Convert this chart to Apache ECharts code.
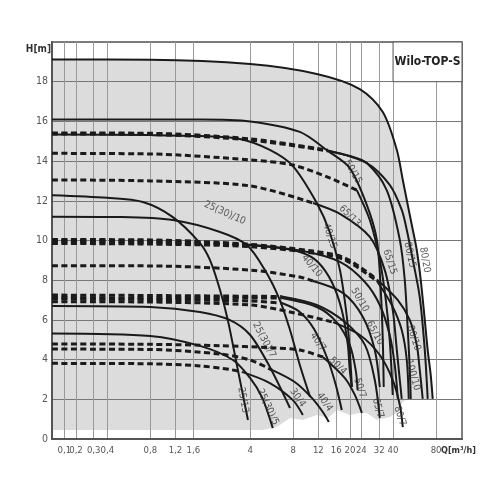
<!DOCTYPE html>
<html><head><meta charset="utf-8">
<script src="https://cdn.jsdelivr.net/npm/echarts@6/dist/echarts.min.js"></script>
<style>html,body{margin:0;padding:0;background:#fff}#c{width:500px;height:500px}</style>
</head><body><div id="c"></div>
<script>
const FONT = "'Liberation Sans Narrow','DejaVu Sans Condensed','DejaVu Sans',sans-serif";

// ---- axis definitions ----
const xTickValues = [0.1,0.2,0.3,0.4,0.8,1.2,1.6,4,8,12,16,20,24,32,40,80];
const xTickLabels = ['0,1','0,2','0,3','0,4','0,8','1,2','1,6','4','8','12','16','20','24','32','40','80'];
const xAxisMaxQ = 121.5;
// low-flow part of the chart's Q scale (below 0.4 the scale is not logarithmic)
const lowScaleQ = [0, 0.1, 0.2, 0.3, 0.4];
const lowScaleU = [-0.785, -0.699, -0.617, -0.493, -0.398];
const yMin = 0, yMax = 20, yStep = 2;

// ---- pump curves [Q m3/h, H m] ----
const pump80_20 = [[0,19.12],[0.8,19.11],[4.0,18.89],[11.7,18.39],[23.4,17.63],[33.9,16.47],[42.5,14.56],[46.8,13.05],[50.7,11.79],[55,10.53],[58.6,9.52],[62.5,8.01],[66.7,5.99],[69.9,4.48],[73.4,3.22],[75.8,2.02]];
const pump50_15 = [[0,16.1],[1.78,16.1],[4.0,16.0],[8.9,15.47],[14.0,14.51],[19.9,13.65],[26.2,11.79],[30.8,10.03],[32.8,7.51],[33.9,4.99],[34.4,2.62]];
const pump40_15 = [[0,15.34],[0.8,15.31],[1.78,15.26],[3.39,15.11],[5.49,14.56],[7.96,13.75],[11.7,11.89],[14.4,10.43],[17.0,8.51],[19.0,6.15],[19.9,4.48],[20.6,2.62]];
const pump65_15_dashed = [[0,15.37],[0.8,15.34],[4.0,15.06],[14.0,14.51]];
const pump65_15 = [[14.0,14.51],[19.9,14.26],[26.2,13.9],[36.1,12.54],[44.6,10.03],[48.3,8.01],[50.7,5.49],[52.4,3.48],[53.2,2.02]];
const pump80_15_dashed = [[0,15.42],[0.8,15.4],[4.0,15.12],[14.0,14.55]];
const pump80_15 = [[14.0,14.53],[26.2,13.9],[37.9,12.8],[46.0,11.54],[49.9,10.53],[55,9.02],[61.5,7.15],[66.7,4.48],[69.9,2.02]];
const pump65_13_dashed = [[0,14.39],[0.8,14.36],[4.0,14.06],[7.96,13.8],[14.4,13.15],[22.3,12.54]];
const pump65_13 = [[22.3,12.54],[27.5,11.03],[32.3,9.02],[35.6,7.0],[37.9,4.99],[39.8,2.22]];
const pump50_13_dashed = [[0,13.05],[0.8,13.0],[4.0,12.75],[11.0,11.89]];
const pump50_13 = [[11.0,11.89],[17.0,11.34],[27.5,10.18],[35.0,8.51],[39.8,6.5],[42.5,4.48],[44.6,2.97],[46.0,2.02]];
const pump25_13 = [[0,12.28],[0.4,12.15],[0.71,11.94],[1.15,11.18],[1.78,9.87],[2.09,9.02],[2.46,7.51],[2.79,5.99],[3.28,3.48],[3.86,0.96]];
const pump25_10 = [[0,11.2],[0.49,11.18],[1.15,11.03],[2.46,10.43],[3.79,9.77],[5.07,8.51],[6.45,7.0],[7.6,5.49],[8.9,3.73],[10.5,2.12]];
const pump40_10_dashed = [[0,9.92],[0.8,9.9],[3.79,9.77]];
const pump40_10 = [[3.79,9.77],[6.45,9.62],[9.35,9.37],[11.9,8.92],[14.9,7.91],[17.5,6.5],[19.3,4.74],[19.9,3.48],[20.6,2.62]];
const pump65_10_dashed = [[0,10.0],[0.8,9.97],[3.79,9.8]];
const pump65_10 = [[3.79,9.8],[9.35,9.47],[17.0,8.92],[25.4,7.91],[32.3,6.75],[37.9,5.24],[41.1,3.73],[43.2,2.02]];
const pump80_10_dashed = [[0,10.05],[0.8,10.03],[3.79,9.82],[11.0,9.47],[18.4,9.12],[30.8,8.04]];
const pump80_10 = [[30.8,8.04],[43.2,7.0],[52.4,5.99],[58.6,4.74],[61.5,3.48],[64.5,2.02]];
const pump100_10_dashed = [[0,9.85],[0.8,9.82],[3.79,9.7],[11.0,9.37],[18.4,9.02],[30.8,7.96]];
const pump100_10 = [[30.8,7.96],[39.2,6.75],[46.0,5.49],[49.9,3.98],[51.5,2.02]];
const pump50_10_dashed = [[0,8.73],[0.8,8.72],[4.0,8.51],[8.9,8.16],[11.0,7.96]];
const pump50_10 = [[11.0,7.96],[17.8,7.36],[24.6,6.15],[29.8,4.48],[32.3,2.62]];
const pump65_7_dashed = [[0,7.25],[0.8,7.23],[6.66,7.18]];
const pump65_7 = [[6.66,7.18],[11.7,6.75],[18.4,5.89],[25.4,4.74],[29.8,2.97],[32.3,1.06]];
const pump50_7_dashed = [[0,7.13],[0.8,7.10],[6.66,7.10]];
const pump50_7 = [[6.66,7.10],[11.7,6.65],[16.1,5.89],[19.9,4.74],[21.9,3.48],[22.6,2.47]];
const pump40_7_dashed = [[0,7.05],[0.8,7.03],[4.0,6.95],[6.66,6.85]];
const pump40_7 = [[6.66,6.85],[8.9,6.40],[11.3,5.49],[14.0,3.98],[15.9,2.72],[17.5,1.46]];
const pump80_7_dashed = [[0,6.92],[0.8,6.9],[4.0,6.75],[7.6,6.40],[15.2,5.89]];
const pump80_7 = [[15.2,5.89],[23.4,5.24],[32.3,4.23],[39.8,2.97],[44.6,1.71],[46.8,0.6]];
const pump25_7 = [[0,6.70],[0.8,6.65],[1.78,6.40],[2.89,5.99],[4.0,5.24],[5.49,3.63],[7.6,1.56]];
const pump25_5 = [[0,5.32],[0.8,5.19],[1.78,4.69],[3.03,3.98],[4.0,3.07],[4.83,2.12],[5.76,0.55]];
const pump50_4_dashed = [[0,4.79],[0.8,4.77],[2.46,4.7],[5.5,4.6],[8.9,4.48],[12.9,4.13]];
const pump50_4 = [[12.9,4.13],[18.4,3.07],[21.6,2.22],[24.2,1.31]];
const pump40_4_dashed = [[0,4.53],[0.8,4.51],[2.46,4.28],[4.0,3.98],[5.67,3.48]];
const pump40_4 = [[5.67,3.48],[8.2,2.87],[10.8,2.07],[12.9,1.36],[14.2,0.86]];
const pump30_4_dashed = [[0,3.81],[0.8,3.79],[1.78,3.68],[2.89,3.5],[3.5,3.38]];
const pump30_4 = [[3.5,3.38],[5.49,2.82],[7.96,1.96],[9.35,1.21]];

// lower edge of the grey operating field (right to left)
const fieldBottom = [[75.8,2.02],[49.9,2.02],[46.8,1.86],[42.5,1.31],[37.9,1.11],[30.8,0.96],[26.2,1.31],[23.4,1.31],[19.9,1.21],[16.2,1.46],[14.0,1.06],[11.7,1.21],[9.35,0.96],[7.6,1.06],[6.15,0.6],[4.91,0.45],[0,0.45]];

// curve labels
const labelNames = ['25/13','25(30)/10','25(30)/7','25(30)/5','30/4','40/4','40/7','40/10','40/15','50/4','50/7','50/10','50/15','65/7','65/10','65/13','65/15','80/7','80/10','80/15','80/20','100/10'];
const labelPoints = [[3.56,1.96],[2.66,11.39],[5.0,4.99],[5.32,1.61],[8.6,2.07],[13.3,1.86],[11.9,4.89],[10.8,8.72],[14.4,10.23],[16.4,3.68],[23.4,2.57],[23.4,7.0],[20.9,13.45],[31.3,1.56],[29.8,5.34],[19.9,11.23],[37.9,8.92],[44.6,1.16],[55.8,5.09],[52.4,9.27],[66.7,9.02],[55,3.22]];
const labelAngles = [-80,-24,-62,-65,-55,-55,-55,-50,-72,-45,-72,-60,-60,-75,-62,-45,-72,-72,-72,-78,-80,-74];

// ---- scale ----
function qToU(q){
  if (q >= 0.4) return Math.log10(q);
  for (let i = 1; i < lowScaleQ.length; i++) {
    if (q <= lowScaleQ[i]) {
      const f = (q - lowScaleQ[i-1]) / (lowScaleQ[i] - lowScaleQ[i-1]);
      return lowScaleU[i-1] + f * (lowScaleU[i] - lowScaleU[i-1]);
    }
  }
  return lowScaleU[lowScaleU.length-1];
}
const pts = arr => arr.map(p => [qToU(p[0]), p[1]]);
const xTickU = xTickValues.map(qToU);
const xLabelU = [qToU(0)].concat(xTickU);

const curves = [
  [null, pump80_20], [null, pump50_15], [null, pump40_15],
  [pump65_15_dashed, pump65_15], [pump80_15_dashed, pump80_15],
  [pump65_13_dashed, pump65_13], [pump50_13_dashed, pump50_13],
  [null, pump25_13], [null, pump25_10],
  [pump40_10_dashed, pump40_10], [pump65_10_dashed, pump65_10],
  [pump80_10_dashed, pump80_10], [pump100_10_dashed, pump100_10],
  [pump50_10_dashed, pump50_10],
  [pump65_7_dashed, pump65_7], [pump50_7_dashed, pump50_7],
  [pump40_7_dashed, pump40_7], [pump80_7_dashed, pump80_7],
  [null, pump25_7], [null, pump25_5],
  [pump50_4_dashed, pump50_4], [pump40_4_dashed, pump40_4], [pump30_4_dashed, pump30_4]
];

const series = [];
const fieldPoly = pts(pump80_20.concat(fieldBottom));
series.push({
  type: 'custom', z: -1, silent: true, data: [[0, 0]],
  renderItem: (params, api) => ({
    type: 'polygon',
    shape: { points: fieldPoly.map(p => api.coord(p)) },
    style: { fill: '#dcdcdc' }
  })
});
curves.forEach(([d, s], i) => {
  if (d) series.push({
    type: 'line', data: pts(d), symbol: 'none', smooth: 0.3, silent: true, z: 3,
    lineStyle: { color: '#1a1a1a', width: 3, type: [6, 3.5] }
  });
  const ser = {
    type: 'line', data: pts(s), symbol: 'none', smooth: 0.3, silent: true, z: 4,
    lineStyle: { color: '#1a1a1a', width: 2 }
  };
  if (i === 0) {
    ser.markArea = {
      silent: true,
      itemStyle: { color: '#ffffff', borderColor: '#555', borderWidth: 1 },
      label: { show: true, position: 'inside', color: '#222', fontSize: 12, fontWeight: 'bold', fontFamily: FONT },
      data: [[{ name: 'Wilo-TOP-S', xAxis: qToU(40), yAxis: 18 }, { xAxis: qToU(xAxisMaxQ), yAxis: 20 }]]
    };
  }
  series.push(ser);
});
series.push({
  type: 'scatter', symbolSize: 0, silent: true, z: 6,
  data: labelNames.map((n, i) => ({ name: n, value: [qToU(labelPoints[i][0]), labelPoints[i][1]], label: { rotate: labelAngles[i] } })),
  label: { show: true, position: 'inside', formatter: '{b}', color: '#333', fontSize: 10, fontFamily: FONT }
});

const chart = echarts.init(document.getElementById('c'));
chart.setOption({
  animation: false,
  grid: { left: 52, right: 38, top: 42, bottom: 61, show: true, borderColor: '#555', borderWidth: 1.5, backgroundColor: 'transparent' },
  xAxis: {
    type: 'value', min: qToU(0), max: qToU(xAxisMaxQ),
    name: 'Q[m³/h]', nameLocation: 'end', nameGap: -21, nameMoveOverlap: false,
    nameTextStyle: { align: 'left', verticalAlign: 'top', padding: [7, 0, 0, 0], color: '#333', fontSize: 9, fontWeight: 'bold', fontFamily: FONT },
    axisLine: { show: true, onZero: false, lineStyle: { color: '#555', width: 2 } },
    axisTick: { show: false, customValues: xTickU },
    axisLabel: {
      customValues: xLabelU, hideOverlap: false, margin: 7, color: '#555', fontSize: 9.5, fontFamily: FONT,
      formatter: v => { const i = xTickU.findIndex(u => Math.abs(u - v) < 1e-6); return i >= 0 ? xTickLabels[i] : ' '; }
    },
    splitLine: { show: true, lineStyle: { color: '#9a9a9a', width: 1 } }
  },
  yAxis: {
    type: 'value', min: yMin, max: yMax, interval: yStep,
    name: 'H[m]', nameLocation: 'end', nameGap: -7, nameMoveOverlap: false,
    nameTextStyle: { align: 'right', verticalAlign: 'middle', padding: [0, 1, 0, 0], color: '#333', fontSize: 10, fontWeight: 'bold', fontFamily: FONT },
    axisLine: { show: true, onZero: false, lineStyle: { color: '#555', width: 2 } },
    axisTick: { show: false },
    axisLabel: { margin: 4, color: '#555', fontSize: 10.5, fontFamily: FONT, formatter: v => v >= yMax ? '' : String(v) },
    splitLine: { show: true, lineStyle: { color: '#777', width: 1 } }
  },
  series: series
});
</script></body></html>
